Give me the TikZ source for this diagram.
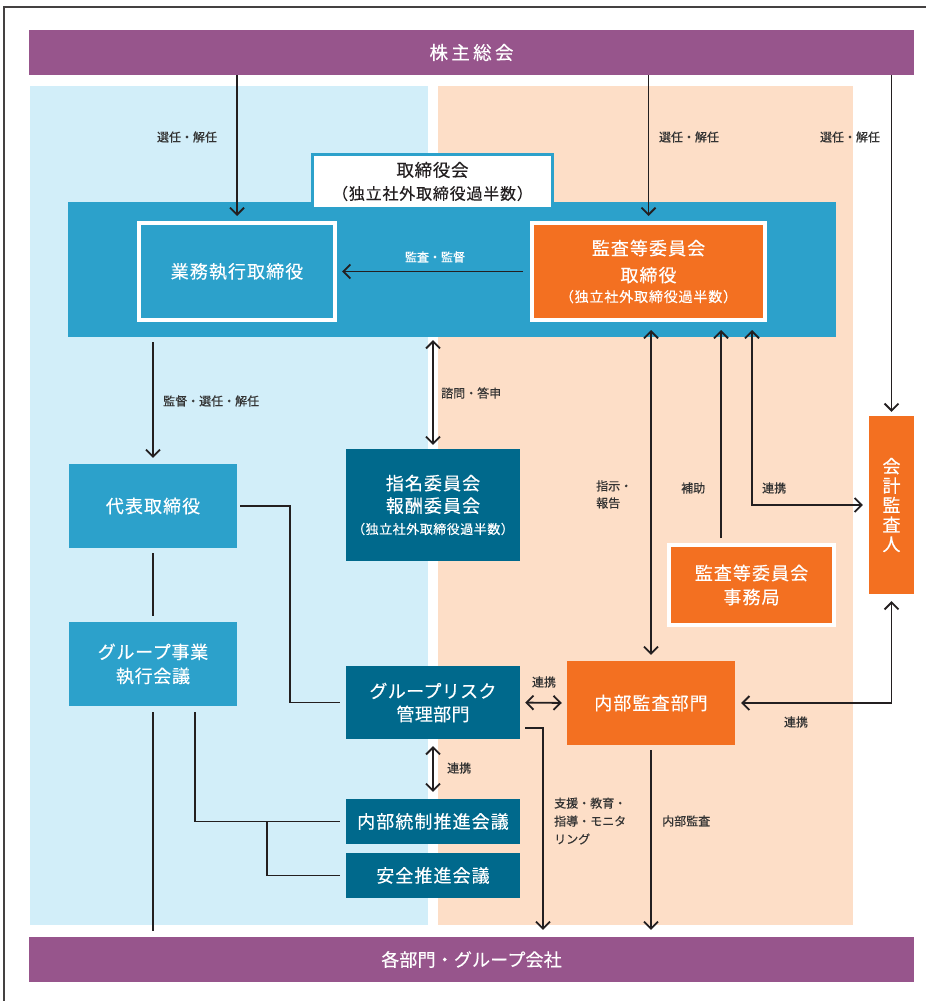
\documentclass[tikz,border=0pt]{standalone}
\usepackage{fontspec}
\setmainfont{Noto Sans CJK JP}[FakeBold=0.3]
\usetikzlibrary{arrows.meta,calc}
\definecolor{cpurple}{HTML}{97558C}
\definecolor{clblue}{HTML}{D2EEF9}
\definecolor{cpeach}{HTML}{FDDEC7}
\definecolor{cblue}{HTML}{2CA1CB}
\definecolor{corange}{HTML}{F37021}
\definecolor{cteal}{HTML}{00698C}
\definecolor{cline}{HTML}{231F20}
\definecolor{ctext}{HTML}{333333}
\tikzset{
  ln/.style={draw=cline, line width=1.8pt},
  tip/.tip={Straight Barb[length=7pt,width=14pt]},
  arr/.style={ln, -tip},
  darr/.style={ln, tip-tip},
  box/.style={inner sep=0pt, text=white, align=center},
  bigfont/.style={font=\fontsize{18}{24}\selectfont\addfontfeatures{LetterSpace=6}},
  lab/.style={text=ctext, inner sep=0pt, font=\fontsize{12}{17}\selectfont\addfontfeatures{FakeBold=0.4}},
}
\begin{document}
\begin{tikzpicture}[x=1pt,y=-1pt]
\useasboundingbox (0,0) rectangle (926,1001);
% frame
\draw[draw=cline!85, line width=1.5pt] (926,7) -- (4,7) -- (4,1001);
% backgrounds
\fill[clblue] (30,86) rectangle (428,925);
\fill[cpeach] (438,86) rectangle (853,925);
% bars
\node[box, fill=cpurple, minimum width=885pt, minimum height=45pt, font=\fontsize{18.5}{24}\selectfont\addfontfeatures{LetterSpace=18}] (top) at (471.5,52.5) {株主総会};
\node[box, fill=cpurple, minimum width=885pt, minimum height=45pt, font=\fontsize{18}{24}\selectfont\addfontfeatures{LetterSpace=1}] (bottom) at (471.5,959.5) {各部門・グループ会社};
% board
\node[box, fill=cblue, minimum width=768pt, minimum height=135pt] (board) at (452,269.5) {};
\node[box, text=cline, fill=white, draw=cblue, line width=2.5pt, minimum width=240pt, minimum height=54pt, font=\fontsize{17.5}{23}\selectfont] (boardlabel) at (432.5,181.5)
  {\addfontfeatures{LetterSpace=4}取締役会\\\fontsize{16}{23}\selectfont\addfontfeatures{LetterSpace=5}（独立社外取締役過半数）};
\node[box, bigfont, fill=cblue, draw=white, line width=4pt, minimum width=196pt, minimum height=97pt] (exec) at (237,271.5) {業務執行取締役};
\node[box, fill=corange, draw=white, line width=4pt, minimum width=233pt, minimum height=97pt, font=\fontsize{18}{27}\selectfont\addfontfeatures{LetterSpace=6}] (audit) at (648.5,271.5)
  {監査等委員会\\取締役\\[-7pt]\fontsize{14}{20}\selectfont\addfontfeatures{LetterSpace=6}（独立社外取締役過半数）};
% left column
\node[box, bigfont, fill=cblue, minimum width=168pt, minimum height=84pt] (rep) at (153,506) {代表取締役};
\node[box, fill=cblue, minimum width=168pt, minimum height=84pt, font=\fontsize{18}{24}\selectfont\addfontfeatures{LetterSpace=4}] (grpexec) at (153,664) {グループ事業\\執行会議};
% middle column
\node[box, fill=cteal, minimum width=174pt, minimum height=112pt, font=\fontsize{18}{22.5}\selectfont\addfontfeatures{LetterSpace=6}] (nom) at (433,505)
  {指名委員会\\報酬委員会\\[-1pt]\fontsize{13}{20}\selectfont\addfontfeatures{LetterSpace=4}（独立社外取締役過半数）};
\node[box, fill=cteal, minimum width=174pt, minimum height=73pt, font=\fontsize{18}{23}\selectfont\addfontfeatures{LetterSpace=2}] (risk) at (433,702.5) {グループリスク\\管理部門};
\node[box, bigfont, fill=cteal, minimum width=174pt, minimum height=45pt] (ic) at (433,821.5) {内部統制推進会議};
\node[box, bigfont, fill=cteal, minimum width=174pt, minimum height=45pt] (safety) at (433,875.5) {安全推進会議};
% right column
\node[box, bigfont, fill=corange, minimum width=168pt, minimum height=84pt] (ia) at (651,703) {内部監査部門};
\node[box, fill=corange, draw=white, line width=4pt, minimum width=165pt, minimum height=80pt, font=\fontsize{18}{24}\selectfont\addfontfeatures{LetterSpace=6}] (sec) at (751.5,585) {監査等委員会\\事務局};
\node[box, fill=corange, minimum width=45pt, minimum height=178pt, font=\fontsize{18}{19.5}\selectfont] (acc) at (891.5,505) {会\\計\\監\\査\\人};
% helper coordinates
\coordinate (xa) at (721,0);
\coordinate (xb) at (752,0);
\coordinate (xr) at (543,0);
\coordinate (rr) at (290,506);
\coordinate (g1) at (195,706);
\coordinate (br) at (267,821.5);
\coordinate (r2) at (520,728);
% connectors
\draw[arr, shorten >=5pt] (top.south -| exec.north) -- (exec.north);
\draw[arr, shorten >=5pt] (top.south -| audit.north) -- (audit.north);
\draw[arr, shorten >=4pt] (top.south -| acc.north) -- (acc.north);
\draw[arr, shorten <=7pt, shorten >=5pt] (audit.west) -- (exec.east);
\draw[arr, shorten <=5pt, shorten >=6pt] (board.south -| rep.north) -- (rep.north);
\draw[ln, shorten <=5pt, shorten >=6pt] (rep.south) -- (grpexec.north);
\draw[ln, shorten <=6pt, shorten >=6pt] (grpexec.south) -- (bottom.north -| grpexec.south);
\draw[ln, shorten <=6pt, shorten >=6pt] (g1) |- (ic.west);
\draw[ln, shorten >=6pt] (br) |- (safety.west);
\draw[ln, shorten <=3pt, shorten >=6pt] (rep.east) -- (rr) |- (risk.west);
\draw[darr, shorten <=3pt, shorten >=4pt] (board.south -| nom.north) -- (nom.north);
\draw[darr, shorten <=7pt, shorten >=7pt] (risk.south) -- (ic.north);
\draw[darr, shorten <=5pt, shorten >=5pt] (risk.east) -- (ia.west);
\draw[arr, shorten <=5pt, shorten >=7pt] (r2) -| (bottom.north -| xr);
\draw[arr, shorten <=5pt, shorten >=7pt] (ia.south) -- (bottom.north -| ia.south);
\draw[darr, shorten <=8pt, shorten >=6pt] (audit.south -| ia.north) -- (ia.north);
\draw[arr, shorten <=5pt, shorten >=8pt] (sec.north -| xa) -- (audit.south -| xa);
\draw[darr, shorten <=8pt, shorten >=6pt] (audit.south -| xb) |- (acc.west);
\draw[darr, shorten <=7pt, shorten >=6pt] (acc.south) |- (ia.east);
% labels
\node[lab] (l1) at (187,137) {選任・解任};
\node[lab] (l2) at (689,137) {選任・解任};
\node[lab] (l3) at (850,137) {選任・解任};
\node[lab, text=white] (l4) at (435,257) {監査・監督};
\node[lab, anchor=west] (l5) at (163,401) {監督・選任・解任};
\node[lab, anchor=west] (l6) at (441,393) {諮問・答申};
\node[lab, anchor=west, align=left] (l7) at (596,494.5) {指示・\\報告};
\node[lab, anchor=west] (l8) at (681,488) {補助};
\node[lab, anchor=west] (l9) at (762,488) {連携};
\node[lab] (l10) at (544,682) {連携};
\node[lab, anchor=west] (l11) at (447,768) {連携};
\node[lab] (l12) at (796,722) {連携};
\node[lab, anchor=west, align=left, font=\fontsize{12}{18}\selectfont\addfontfeatures{FakeBold=0.4}] (l13) at (554,821) {支援・教育・\\指導・モニタ\\リング};
\node[lab, anchor=west] (l14) at (662,821) {内部監査};
\end{tikzpicture}
\end{document}
